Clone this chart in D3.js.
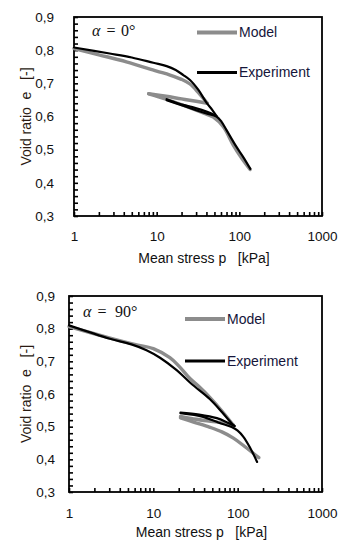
<!DOCTYPE html>
<html>
<head>
<meta charset="utf-8">
<script src="https://cdn.jsdelivr.net/npm/d3@7"></script>
<style>
  body { margin: 0; background: #fff; }
  text { font-family: "Liberation Sans", Arial, sans-serif; fill: #111; }
</style>
</head>
<body>
<svg id="chart" width="348" height="544"></svg>
<script>
// axis values shared by both panels
var xTicks = [1, 10, 100, 1000];
var xTickLabels = ["1", "10", "100", "1000"];
var yTicks = [0.3, 0.4, 0.5, 0.6, 0.7, 0.8, 0.9];
var yTickLabels = ["0,3", "0,4", "0,5", "0,6", "0,7", "0,8", "0,9"];
var seriesNames = ["Model", "Experiment"];

// alpha = 0 deg : model (grey)
var p0ModelLoad   = [1, 2, 4.3, 10, 14.5, 20, 25.3, 32, 41];
var e0ModelLoad   = [0.805, 0.786, 0.765, 0.737, 0.725, 0.712, 0.698, 0.672, 0.640];
var p0ModelUnload = [41, 30, 20, 13, 8];
var e0ModelUnload = [0.640, 0.646, 0.653, 0.661, 0.669];
var p0ModelReload = [8, 13, 25, 40, 48.5, 64, 84.5, 105, 135];
var e0ModelReload = [0.668, 0.652, 0.627, 0.607, 0.598, 0.569, 0.514, 0.477, 0.440];

// alpha = 0 deg : experiment (black)
var p0ExpLoad   = [1, 2.7, 5, 9.1, 13.2, 17, 21, 25.3, 32, 40, 47, 53];
var e0ExpLoad   = [0.808, 0.790, 0.778, 0.762, 0.752, 0.740, 0.725, 0.710, 0.680, 0.642, 0.620, 0.601];
var p0ExpUnload = [53, 46, 35, 25.3, 18, 13.2];
var e0ExpUnload = [0.601, 0.609, 0.620, 0.630, 0.640, 0.652];
var p0ExpReload = [13.2, 20, 30, 40, 53, 61, 70, 92, 112, 136];
var e0ExpReload = [0.649, 0.634, 0.619, 0.609, 0.600, 0.584, 0.559, 0.509, 0.477, 0.442];

// alpha = 90 deg : model (grey)
var p90ModelLoad   = [1, 3, 6, 10, 15.7, 20, 27, 35, 47, 65, 88];
var e90ModelLoad   = [0.806, 0.772, 0.752, 0.739, 0.711, 0.686, 0.648, 0.622, 0.589, 0.548, 0.506];
var p90ModelUnload = [88, 60, 40, 28, 21];
var e90ModelUnload = [0.506, 0.513, 0.519, 0.525, 0.531];
var p90ModelReload = [21, 30, 47, 65, 89, 120, 178];
var e90ModelReload = [0.527, 0.514, 0.498, 0.484, 0.465, 0.440, 0.405];

// alpha = 90 deg : experiment (black)
var p90ExpLoad   = [1, 3.06, 5.5, 8.3, 12, 18.9, 28, 47, 65, 85, 92];
var e90ExpLoad   = [0.810, 0.769, 0.752, 0.734, 0.711, 0.673, 0.632, 0.584, 0.545, 0.510, 0.502];
var p90ExpUnload = [92, 75, 56.6, 35, 21];
var e90ExpUnload = [0.502, 0.513, 0.526, 0.537, 0.543];
var p90ExpReload = [21, 39, 60, 85, 100, 117, 140, 170];
var e90ExpReload = [0.541, 0.530, 0.512, 0.499, 0.488, 0.469, 0.436, 0.392];

var GREY = "#8c8c8c";
var BLACK = "#000";

function pairs(p, e) {
    return p.map(function(d, i) { return {p: d, e: e[i]}; });
}

var svg = d3.select("#chart");

function drawPanel(c) {
    var g = svg.append("g");

    var x = d3.scaleLog()
        .domain([1, 1000])
        .range([c.left, c.right]);
    var y = d3.scaleLinear()
        .domain([0.3, 0.9])
        .range([c.bottom, c.top]);

    // minor ticks: 0.02 on y, 1..9 per decade on x
    var yMinor = d3.range(0, 31).map(function(i) { return 0.3 + i * 0.02; });
    var xMinor = [];
    [1, 10, 100].forEach(function(dec) {
        for (var k = 1; k < 10; k++) xMinor.push(dec * k);
    });
    xMinor.push(1000);

    g.append("g")
        .attr("transform", "translate(" + c.left + ",0)")
        .call(d3.axisLeft(y).tickValues(yMinor).tickSizeInner(-4).tickSizeOuter(0)
            .tickPadding(c.yPad)
            .tickFormat(function(v) {
                var i = yTicks.findIndex(function(t) { return Math.abs(t - v) < 1e-6; });
                return i < 0 ? "" : yTickLabels[i];
            }))
        .call(function(a) {
            a.select(".domain").remove();
            a.selectAll("line").attr("stroke", "#000").attr("stroke-width", 1.6);
            a.selectAll("text").attr("font-size", 13.5).attr("font-family", null);
        });

    g.append("g")
        .attr("transform", "translate(0," + c.bottom + ")")
        .call(d3.axisBottom(x).tickValues(xMinor).tickSizeInner(-4).tickSizeOuter(0)
            .tickPadding(c.xPad)
            .tickFormat(function(v) {
                var i = xTicks.indexOf(v);
                return i < 0 ? "" : xTickLabels[i];
            }))
        .call(function(a) {
            a.select(".domain").remove();
            a.selectAll("line").attr("stroke", "#000").attr("stroke-width", 1.6);
            a.selectAll("text").attr("font-size", 13.5).attr("font-family", null);
        });

    // plot frame
    g.append("rect")
        .attr("x", c.left)
        .attr("y", c.top)
        .attr("width", c.right - c.left)
        .attr("height", c.bottom - c.top)
        .attr("fill", "none")
        .attr("stroke", "#000")
        .attr("stroke-width", 1.8);

    var line = d3.line()
        .x(function(d) { return x(d.p); })
        .y(function(d) { return y(d.e); })
        .curve(d3.curveCatmullRom.alpha(0.5));

    c.model.forEach(function(seg) {
        g.append("path")
            .datum(pairs(seg[0], seg[1]))
            .attr("fill", "none")
            .attr("stroke", GREY)
            .attr("stroke-width", 3.4)
            .attr("stroke-linejoin", "round")
            .attr("stroke-linecap", "round")
            .attr("d", line);
    });
    c.exp.forEach(function(seg) {
        g.append("path")
            .datum(pairs(seg[0], seg[1]))
            .attr("fill", "none")
            .attr("stroke", BLACK)
            .attr("stroke-width", 2.2)
            .attr("stroke-linejoin", "round")
            .attr("stroke-linecap", "round")
            .attr("d", line);
    });

    // legend
    var legY = [c.legModelY, c.legExpY];
    var legColor = [GREY, BLACK];
    var legWidth = [4, 3];
    seriesNames.forEach(function(name, i) {
        g.append("line")
            .attr("x1", c.legX)
            .attr("x2", c.legX + 40)
            .attr("y1", legY[i])
            .attr("y2", legY[i])
            .attr("stroke", legColor[i])
            .attr("stroke-width", legWidth[i]);
        g.append("text")
            .attr("x", c.legX + 42)
            .attr("y", legY[i])
            .attr("dy", "0.35em")
            .attr("font-size", 14)
            .style("fill", "#15153a")
            .text(name);
    });

    // alpha annotation
    var ann = g.append("g");
    ann.append("text")
        .attr("x", c.alphaX)
        .attr("y", c.alphaY)
        .attr("font-size", 16)
        .attr("font-style", "italic")
        .style("font-family", "'Liberation Serif', serif")
        .text("α");
    ann.append("text")
        .attr("x", c.alphaX + 19)
        .attr("y", c.alphaY)
        .attr("font-size", 16)
        .attr("text-anchor", "middle")
        .style("font-family", "'Liberation Serif', serif")
        .text("=");
    ann.append("text")
        .attr("x", c.alphaX + c.angleDx)
        .attr("y", c.alphaY)
        .attr("font-size", 16)
        .style("font-family", "'Liberation Serif', serif")
        .text(c.angle + "°");

    // axis titles
    g.append("text")
        .attr("x", (c.left + c.right) / 2 + 6)
        .attr("y", c.bottom + c.xTitleOff)
        .attr("text-anchor", "middle")
        .attr("font-size", 14)
        .style("white-space", "pre")
        .text("Mean stress p   [kPa]");
    g.append("text")
        .attr("transform", "translate(" + c.yTitleX + "," + ((c.top + c.bottom) / 2) + ")rotate(-90)")
        .attr("text-anchor", "middle")
        .attr("font-size", 14)
        .style("white-space", "pre")
        .style("fill", "#2a1a12")
        .text("Void ratio  e   [-]");
}

drawPanel({
    left: 74, right: 322, top: 17, bottom: 216,
    yPad: 20, xPad: 15, xTitleOff: 47, yTitleX: 31,
    legX: 197, legModelY: 32.5, legExpY: 72.5,
    alphaX: 92, alphaY: 36, angle: "0", angleDx: 29,
    model: [[p0ModelLoad, e0ModelLoad], [p0ModelUnload, e0ModelUnload], [p0ModelReload, e0ModelReload]],
    exp: [[p0ExpLoad, e0ExpLoad], [p0ExpUnload, e0ExpUnload], [p0ExpReload, e0ExpReload]]
});

drawPanel({
    left: 69, right: 322, top: 296, bottom: 492,
    yPad: 14, xPad: 16, xTitleOff: 45, yTitleX: 31,
    legX: 185, legModelY: 319, legExpY: 361,
    alphaX: 83, alphaY: 317, angle: "90", angleDx: 32,
    model: [[p90ModelLoad, e90ModelLoad], [p90ModelUnload, e90ModelUnload], [p90ModelReload, e90ModelReload]],
    exp: [[p90ExpLoad, e90ExpLoad], [p90ExpUnload, e90ExpUnload], [p90ExpReload, e90ExpReload]]
});
</script>
</body>
</html>
